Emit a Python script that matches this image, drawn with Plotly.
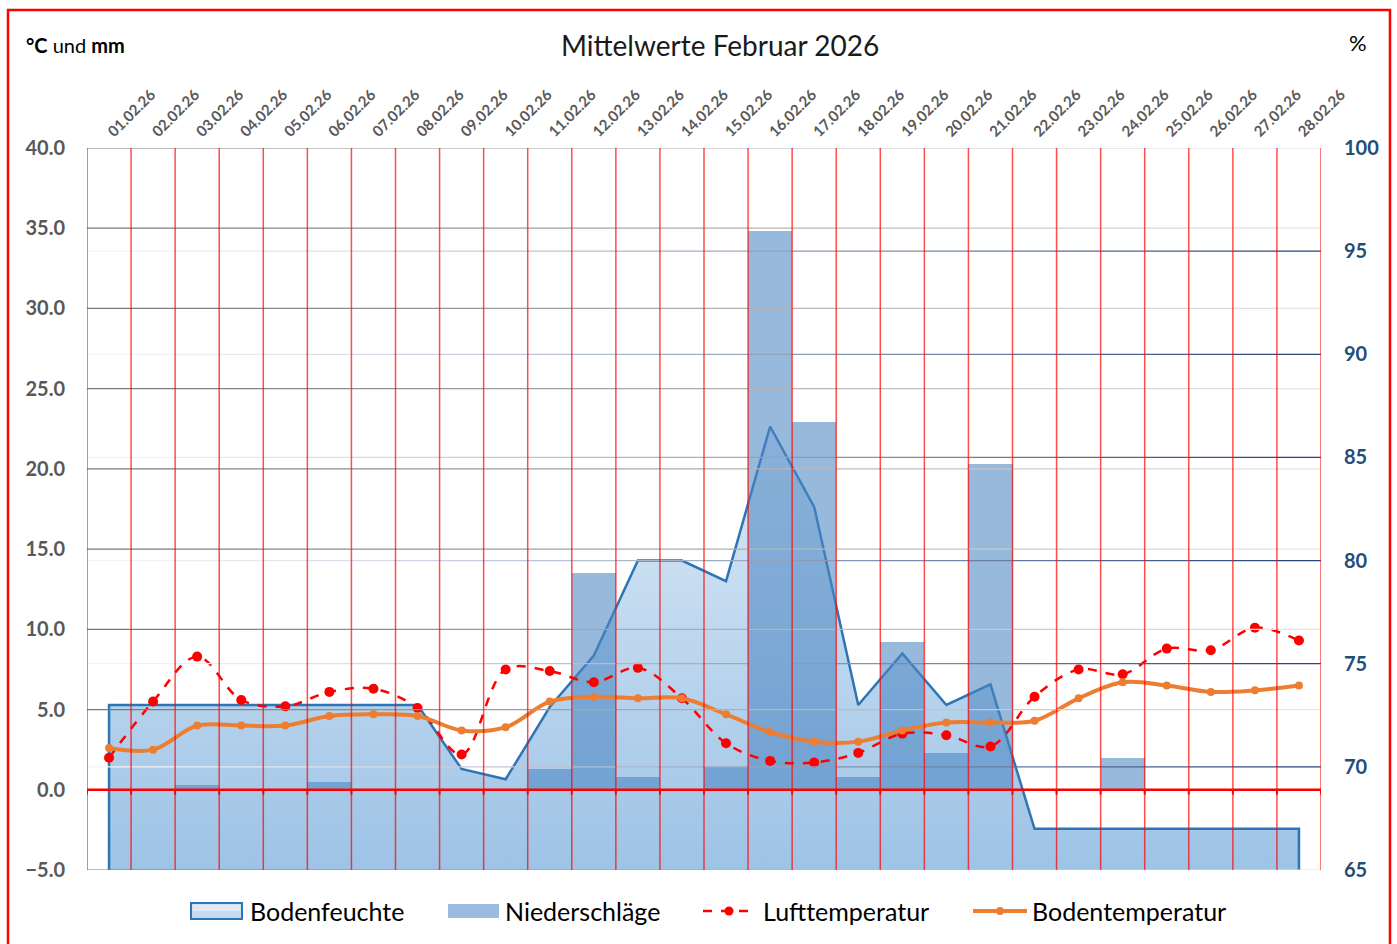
import plotly.graph_objects as go

# ---------------- data ----------------
dates = ["01.02.26", "02.02.26", "03.02.26", "04.02.26", "05.02.26", "06.02.26", "07.02.26",
         "08.02.26", "09.02.26", "10.02.26", "11.02.26", "12.02.26", "13.02.26", "14.02.26",
         "15.02.26", "16.02.26", "17.02.26", "18.02.26", "19.02.26", "20.02.26", "21.02.26",
         "22.02.26", "23.02.26", "24.02.26", "25.02.26", "26.02.26", "27.02.26", "28.02.26"]
bodenfeuchte = [73.0, 73.0, 73.0, 73.0, 73.0, 73.0, 73.0, 73.0, 69.9, 69.4, 72.9, 75.4, 80.0, 80.0,
                79.0, 86.5, 82.6, 73.0, 75.5, 73.0, 74.0, 67.0, 67.0, 67.0, 67.0, 67.0, 67.0, 67.0]
niederschlag = [0.0, 0.0, 0.3, 0.0, 0.0, 0.5, 0.0, 0.0, 0.0, 0.0, 1.3, 13.5, 0.8, 0.0,
                1.4, 34.8, 22.9, 0.8, 9.2, 2.3, 20.3, 0.0, 0.0, 2.0, 0.0, 0.0, 0.0, 0.0]
lufttemp = [2.0, 5.5, 8.3, 5.6, 5.2, 6.1, 6.3, 5.1, 2.2, 7.5, 7.4, 6.7, 7.6, 5.7,
            2.9, 1.8, 1.7, 2.3, 3.5, 3.4, 2.7, 5.8, 7.5, 7.2, 8.8, 8.7, 10.1, 9.3]
bodentemp = [2.6, 2.5, 4.0, 4.0, 4.0, 4.6, 4.7, 4.6, 3.7, 3.9, 5.5, 5.8, 5.7, 5.7,
             4.7, 3.6, 3.0, 3.0, 3.7, 4.2, 4.2, 4.3, 5.7, 6.7, 6.5, 6.1, 6.2, 6.5]

temp_ticks = [-5, 0, 5, 10, 15, 20, 25, 30, 35, 40]
pct_ticks = [65, 70, 75, 80, 85, 90, 95, 100]
series_names = ["Bodenfeuchte", "Niederschläge", "Lufttemperatur", "Bodentemperatur"]

# ---------------- config ----------------
TEMP_RANGE = [temp_ticks[0], temp_ticks[-1]]
PCT_RANGE = [pct_ticks[0], pct_ticks[-1]]
FONT = "Lato"
W, H = 1397, 944
ML, MR, MT, MB = 87, 76, 148, 74
PW, PH = W - ML - MR, H - MT - MB
n = len(dates)
idx = list(range(n))

C_AREA_LINE = "#2E75B6"
C_BAR = "rgba(76,134,195,0.58)"
C_RED = "#FF0000"
C_ORANGE = "#ED7D31"


def px_x(px):
    return (px - ML) / PW


def px_y(py):
    return (H - MB - py) / PH


fig = go.Figure()

# Bodenfeuchte area (closed polygon down to axis minimum)
area_x = [idx[0]] + idx + [idx[-1]]
area_y = [PCT_RANGE[0]] + bodenfeuchte + [PCT_RANGE[0]]
fig.add_trace(go.Scatter(
    x=area_x, y=area_y, name=series_names[0], mode="lines", fill="toself",
    line=dict(color=C_AREA_LINE, width=2.5),
    fillgradient=dict(type="vertical",
                      colorscale=[[0, "#9DC3E6"], [1, "#DDEAF6"]]),
    yaxis="y", hoverinfo="skip", showlegend=False))

# Niederschläge bars
fig.add_trace(go.Bar(
    x=idx, y=niederschlag, name=series_names[1], width=1.0,
    marker=dict(color=C_BAR, line=dict(width=0)),
    yaxis="y2", showlegend=False))

# Lufttemperatur
fig.add_trace(go.Scatter(
    x=idx, y=lufttemp, name=series_names[2], mode="lines+markers",
    line=dict(color=C_RED, width=2.5, dash="dash", shape="spline", smoothing=1.0),
    marker=dict(color=C_RED, size=10), yaxis="y2", showlegend=False))

# Bodentemperatur
fig.add_trace(go.Scatter(
    x=idx, y=bodentemp, name=series_names[3], mode="lines+markers",
    line=dict(color=C_ORANGE, width=4, shape="spline", smoothing=1.0),
    marker=dict(color=C_ORANGE, size=8), yaxis="y2", showlegend=False))


def lerp(c1, c2, t):
    return "rgb(%d,%d,%d)" % tuple(round(a + (b - a) * t) for a, b in zip(c1, c2))


shapes = []
# gradient gridlines (left axis: dark -> light; right axis: light -> dark)
for v in temp_ticks:
    if v == 0:
        continue
    for i in idx:
        t = i / (n - 1)
        shapes.append(dict(type="line", xref="x", yref="y2", x0=i - 0.5, x1=i + 0.5, y0=v, y1=v,
                           line=dict(color=lerp((120, 120, 120), (228, 228, 228), t), width=1.2),
                           layer="above"))
for v in pct_ticks[1:-1]:
    for i in idx:
        t = i / (n - 1)
        shapes.append(dict(type="line", xref="x", yref="y", x0=i - 0.5, x1=i + 0.5, y0=v, y1=v,
                           line=dict(color=lerp((240, 243, 248), (40, 70, 120), t ** 1.3), width=1.2),
                           layer="above"))
# red vertical category separators
for i in range(n + 1):
    shapes.append(dict(type="line", xref="x", yref="paper", x0=i - 0.5, x1=i - 0.5, y0=0, y1=1,
                       line=dict(color="rgba(255,0,0,0.7)", width=1.5), layer="above"))
# red zero line with small ticks
shapes.append(dict(type="line", xref="x", yref="y2", x0=-0.5, x1=n - 0.5, y0=0, y1=0,
                   line=dict(color=C_RED, width=2.5), layer="above"))
for i in range(n + 1):
    shapes.append(dict(type="line", xref="x", yref="y2", x0=i - 0.5, x1=i - 0.5, y0=0, y1=-0.3,
                       line=dict(color=C_RED, width=2), layer="above"))
# outer red frame
shapes.append(dict(type="rect", xref="paper", yref="paper", x0=px_x(8), x1=px_x(1390),
                   y0=px_y(965), y1=px_y(10),
                   line=dict(color=C_RED, width=2.5), layer="above"))

# ---------------- custom legend ----------------
LEG_Y = 911
# Bodenfeuchte icon: gradient-like rect with blue border
shapes.append(dict(type="rect", xref="paper", yref="paper", x0=px_x(191), x1=px_x(242),
                   y0=px_y(919), y1=px_y(903), fillcolor="#C6DBF0",
                   line=dict(color=C_AREA_LINE, width=2), layer="above"))
shapes.append(dict(type="rect", xref="paper", yref="paper", x0=px_x(192.5), x1=px_x(240.5),
                   y0=px_y(911), y1=px_y(904.5), fillcolor="#DCE9F6",
                   line=dict(width=0), layer="above"))
# Niederschläge icon
shapes.append(dict(type="rect", xref="paper", yref="paper", x0=px_x(448), x1=px_x(499),
                   y0=px_y(918), y1=px_y(904), fillcolor="#9BBCDF",
                   line=dict(width=0), layer="above"))
# Lufttemperatur icon
shapes.append(dict(type="line", xref="paper", yref="paper", x0=px_x(703), x1=px_x(755),
                   y0=px_y(LEG_Y), y1=px_y(LEG_Y),
                   line=dict(color=C_RED, width=2.5, dash="dash"), layer="above"))
shapes.append(dict(type="circle", xref="paper", yref="paper", x0=px_x(724.5), x1=px_x(733.5),
                   y0=px_y(LEG_Y + 4.5), y1=px_y(LEG_Y - 4.5), fillcolor=C_RED,
                   line=dict(width=0), layer="above"))
# Bodentemperatur icon
shapes.append(dict(type="line", xref="paper", yref="paper", x0=px_x(973), x1=px_x(1027),
                   y0=px_y(LEG_Y), y1=px_y(LEG_Y),
                   line=dict(color=C_ORANGE, width=4), layer="above"))
shapes.append(dict(type="circle", xref="paper", yref="paper", x0=px_x(996), x1=px_x(1004),
                   y0=px_y(LEG_Y + 4), y1=px_y(LEG_Y - 4), fillcolor=C_ORANGE,
                   line=dict(width=0), layer="above"))

legend_text_x = [248, 503, 761, 1030]

annotations = [
    dict(text="Mittelwerte Februar 2026", xref="paper", yref="paper", x=px_x(720), y=px_y(45),
         xanchor="center", yanchor="middle", showarrow=False,
         font=dict(family=FONT, size=28, color="#1a1a1a")),
    dict(text="<b>°C</b> und <b>mm</b>", xref="paper", yref="paper", x=px_x(24), y=px_y(45),
         xanchor="left", yanchor="middle", showarrow=False,
         font=dict(family=FONT, size=20, color="#000000")),
    dict(text="%", xref="paper", yref="paper", x=px_x(1358), y=px_y(42),
         xanchor="center", yanchor="middle", showarrow=False,
         font=dict(family=FONT, size=22, color="#000000")),
]
for name, lx in zip(series_names, legend_text_x):
    annotations.append(dict(text=name, xref="paper", yref="paper", x=px_x(lx), y=px_y(LEG_Y),
                            xanchor="left", yanchor="middle", showarrow=False,
                            font=dict(family=FONT, size=25, color="#000000")))

fig.update_layout(
    width=W, height=H,
    margin=dict(l=ML, r=MR, t=MT, b=MB, autoexpand=False),
    paper_bgcolor="white", plot_bgcolor="white",
    font=dict(family=FONT),
    showlegend=False,
    barmode="overlay", bargap=0,
    xaxis=dict(range=[-0.5, n - 0.5], tickmode="array", tickvals=idx, ticktext=dates,
               side="top", tickangle=-45, showgrid=False, zeroline=False, showline=False,
               ticks="", ticklabelstandoff=4,
               tickfont=dict(family=FONT, size=15, color="#595959", weight="bold")),
    yaxis=dict(range=PCT_RANGE, tickmode="array", tickvals=pct_ticks, side="right",
               showgrid=False, zeroline=False, showline=False, ticks="", ticklabelstandoff=22,
               tickfont=dict(family=FONT, size=20, color="#1F4E79", weight="bold")),
    yaxis2=dict(range=TEMP_RANGE, tickmode="array", tickvals=temp_ticks, tickformat=".1f",
                overlaying="y", side="left", showgrid=False, zeroline=False, showline=False,
                ticks="", ticklabelstandoff=21,
                tickfont=dict(family=FONT, size=20, color="#595959", weight="bold")),
    shapes=shapes, annotations=annotations,
)

fig.write_html("out.html", config={"displayModeBar": False},
               post_script="document.body.style.margin='0';")
